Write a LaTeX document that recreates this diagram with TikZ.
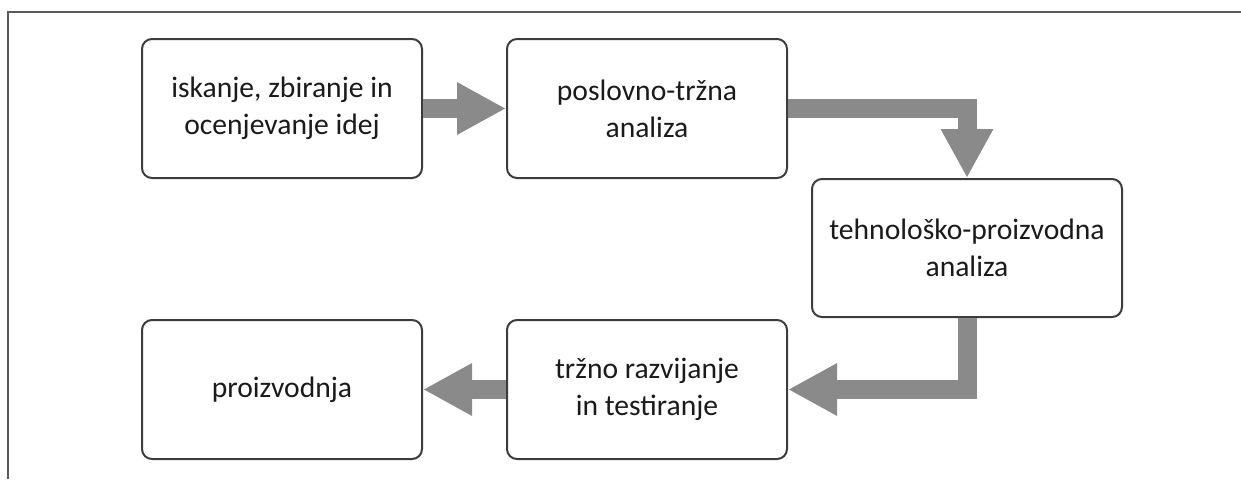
\documentclass[tikz,border=0pt]{standalone}
\usepackage{fontspec}
\setmainfont{Carlito}
\usetikzlibrary{arrows.meta,calc}
\definecolor{boxline}{HTML}{3C3C3C}
\definecolor{flowgray}{HTML}{8A8A8A}
\definecolor{frameline}{HTML}{5A5A5A}
\definecolor{txt}{HTML}{1A1A1A}
\tikzset{
  stagebox/.style={draw=boxline, line width=2pt, rounded corners=10pt, inner sep=0pt,
    align=center, text=txt, font=\fontsize{29.6}{37}\selectfont},
  flow/.style={draw=flowgray, line width=19pt, line join=miter,
    -{Triangle[length=49pt,width=49pt]}},
}
\begin{document}
\begin{tikzpicture}[x=1pt,y=-1pt]
\useasboundingbox (0,0) rectangle (1241,479);
\draw[frameline, line width=1.5pt] (8,479) -- (8,12) -- (1241,12);
\node[stagebox, minimum width=280pt, minimum height=139pt] (b1) at (282,108.5) {iskanje, zbiranje in\\ocenjevanje idej};
\node[stagebox, minimum width=280pt, minimum height=139pt] (b2) at (647,108.5) {poslovno-tržna\\analiza};
\node[stagebox, minimum width=310pt, minimum height=138pt] (b3) at (967,248) {tehnološko-proizvodna\\analiza};
\node[stagebox, minimum width=280pt, minimum height=139pt] (b4) at (647,389.5) {tržno razvijanje\\in testiranje};
\node[stagebox, minimum width=280pt, minimum height=139pt] (b5) at (282,389.5) {proizvodnja};
\draw[flow] (b1.east) -- (b2.west);
\draw[flow] (b2.east) -- (b2.east -| b3.north) -- (b3.north);
\draw[flow] (b3.south) -- (b3.south |- b4.east) -- (b4.east);
\draw[flow] (b4.west) -- (b5.east);
\end{tikzpicture}
\end{document}
